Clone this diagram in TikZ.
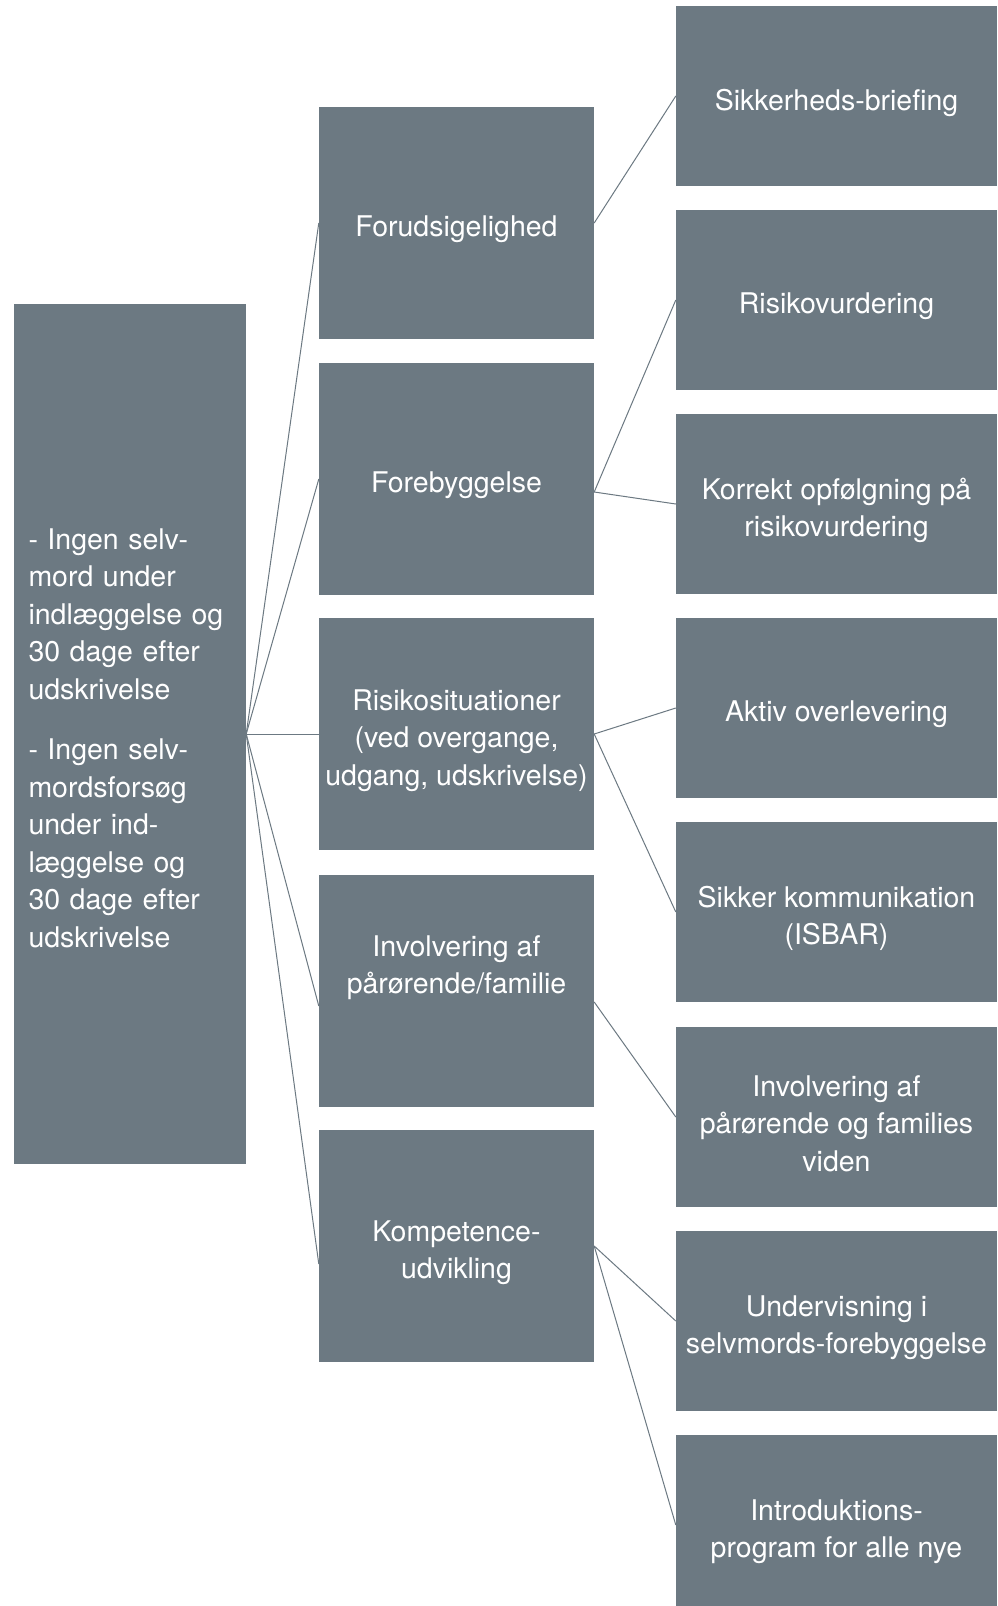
\documentclass[tikz,border=0pt]{standalone}
\usepackage{fontspec}
\setmainfont{TeX Gyre Heros}
\usetikzlibrary{calc}
\definecolor{boxgray}{RGB}{108,121,130}
\begin{document}
\begin{tikzpicture}[x=1pt,y=-1pt,
  boxtext/.style={text=white, align=center, inner sep=0pt, font=\fontsize{28.5}{37.5}\selectfont},
  box/.style={fill=boxgray, draw=none, inner sep=0pt},
  rootbox/.style={box, minimum width=232pt, minimum height=860pt},
  midbox/.style={box, minimum width=275pt, minimum height=232pt},
  rightbox/.style={box, minimum width=321pt, minimum height=180pt},
  link/.style={draw=boxgray, line width=1pt}]
\clip (0,0) rectangle (998,1606);
\fill[white] (0,0) rectangle (998,1606);

% boxes
\node[rootbox] (root) at (130,734) {};
\node[midbox] (m1) at (456.5,223) {};
\node[midbox] (m2) at (456.5,479) {};
\node[midbox] (m3) at (456.5,734) {};
\node[midbox] (m4) at (456.5,991) {};
\node[midbox] (m5) at (456.5,1246) {};
\node[rightbox] (r1) at (836.5,96) {};
\node[rightbox] (r2) at (836.5,300) {};
\node[rightbox] (r3) at (836.5,504) {};
\node[rightbox] (r4) at (836.5,708) {};
\node[rightbox] (r5) at (836.5,912) {};
\node[rightbox] (r6) at (836.5,1117) {};
\node[rightbox] (r7) at (836.5,1321) {};
\node[rightbox] (r8) at (836.5,1525) {};

% texts
\node[boxtext, text width=203pt, align=left] (roott) at ($(root)+(0,4)$)
  {- Ingen selv-\\mord under\\indlæggelse og\\30 dage efter\\udskrivelse\\[23pt]- Ingen selv-\\mordsforsøg\\under ind-\\læggelse og\\30 dage efter\\udskrivelse};
\node[boxtext] (m1t) at ($(m1)+(0,6.5)$) {Forudsigelighed};
\node[boxtext] (m2t) at ($(m2)+(0,6.5)$) {Forebyggelse};
\node[boxtext] (m3t) at ($(m3)+(0,6.5)$) {Risikosituationer\\(ved overgange,\\udgang, udskrivelse)};
\node[boxtext] (m4t) at ($(m4)+(0,-23.5)$) {Involvering af\\pårørende/familie};
\node[boxtext] (m5t) at ($(m5)+(0,6.5)$) {Kompetence-\\udvikling};
\node[boxtext] (r1t) at ($(r1)+(0,6.5)$) {Sikkerheds-briefing};
\node[boxtext] (r2t) at ($(r2)+(0,6.5)$) {Risikovurdering};
\node[boxtext] (r3t) at ($(r3)+(0,6.5)$) {Korrekt opfølgning på\\risikovurdering};
\node[boxtext] (r4t) at ($(r4)+(0,6.5)$) {Aktiv overlevering};
\node[boxtext] (r5t) at ($(r5)+(0,6.5)$) {Sikker kommunikation\\(ISBAR)};
\node[boxtext] (r6t) at ($(r6)+(0,6.5)$) {Involvering af\\pårørende og families\\viden};
\node[boxtext] (r7t) at ($(r7)+(0,6.5)$) {Undervisning i\\selvmords-forebyggelse};
\node[boxtext] (r8t) at ($(r8)+(0,6.5)$) {Introduktions-\\program for alle nye};

% connectors
\draw[link] (root.east) -- (m1.west);
\draw[link] (root.east) -- (m2.west);
\draw[link] (root.east) -- (m3.west);
\draw[link] (root.east) -- ($(m4.west)+(0,15)$);
\draw[link] (root.east) -- ($(m5.west)+(0,18)$);

\draw[link] (m1.east) -- (r1.west);
\draw[link] ($(m2.east)+(0,13)$) -- (r2.west);
\draw[link] ($(m2.east)+(0,13)$) -- (r3.west);
\draw[link] (m3.east) -- (r4.west);
\draw[link] (m3.east) -- (r5.west);
\draw[link] ($(m4.east)+(0,11)$) -- (r6.west);
\draw[link] (m5.east) -- (r7.west);
\draw[link] (m5.east) -- (r8.west);
\end{tikzpicture}
\end{document}
